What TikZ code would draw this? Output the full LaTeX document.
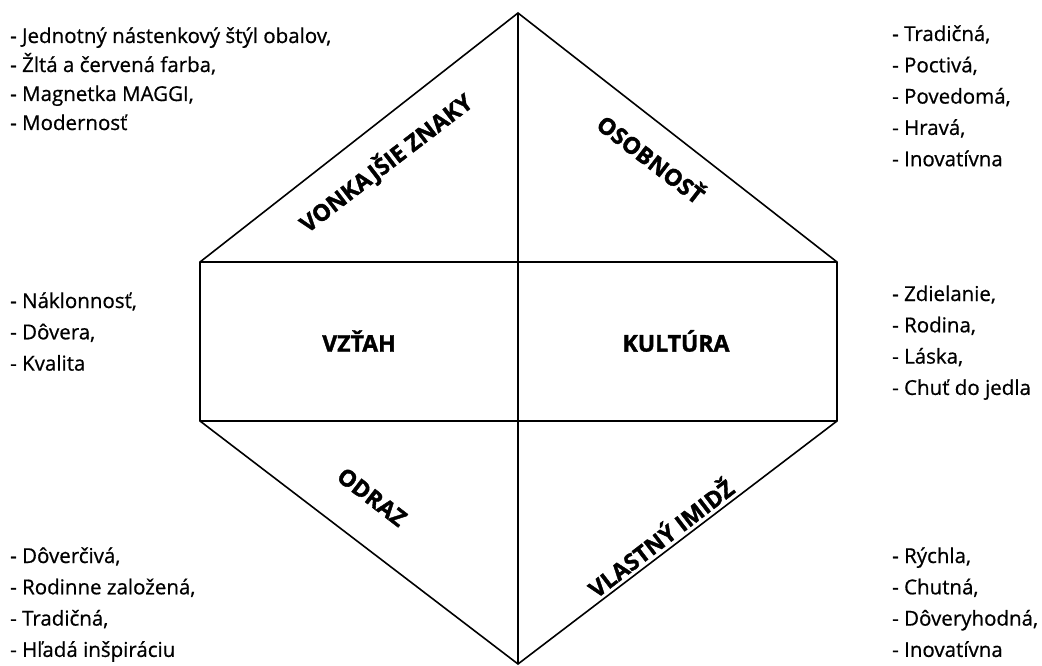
\documentclass[tikz,border=0pt]{standalone}
\usepackage{fontspec}
\setmainfont{Open Sans}
\newfontfamily\listfont{Open Sans}[FakeBold=0.7]
\newfontfamily\labelfont{Open Sans}[FakeBold=1.6]
\begin{document}
\begin{tikzpicture}[x=1pt,y=-1pt,
  edge/.style={line width=1.6pt,line join=miter},
  listtxt/.style={anchor=base west,inner sep=0pt,font=\listfont\fontsize{20.5}{#1}\selectfont},
  listtxt/.default=31.3,
  lbl/.style={inner sep=0pt,font=\labelfont\fontsize{23}{25}\selectfont\bfseries}]
\useasboundingbox (0,0) rectangle (1042,666);
% vertices
\coordinate (T) at (518,13);
\coordinate (UL) at (200,262);
\coordinate (UR) at (837,262);
\coordinate (LL) at (200,421);
\coordinate (LR) at (837,421);
\coordinate (B) at (518,664);
\draw[edge] (T) -- (UR) -- (LR) -- (B) -- (LL) -- (UL) -- cycle;
\draw[edge] (T) -- (B);
\draw[edge] (UL) -- (UR);
\draw[edge] (LL) -- (LR);
% labels
\node[lbl,rotate=37.5] (vz) at (386,163) {VONKAJŠIE ZNAKY};
\node[lbl,rotate=-37.5] (os) at (652,158) {OSOBNOSŤ};
\node[lbl] (vt) at (359,341) {VZŤAH};
\node[lbl] (ku) at (676,341) {KULTÚRA};
\node[lbl,rotate=-37.5] (od) at (372,497) {ODRAZ};
\node[lbl,rotate=37.5] (vi) at (660,537) {VLASTNÝ IMIDŽ};
% lists
\node[listtxt=29] (ltl) at (10,43) {\begin{tabular}[t]{@{}l@{}}- Jednotný nástenkový štýl obalov,\\- Žltá a červená farba,\\- Magnetka MAGGI,\\- Modernosť\end{tabular}};
\node[listtxt] (ltr) at (892,41) {\begin{tabular}[t]{@{}l@{}}- Tradičná,\\- Poctivá,\\- Povedomá,\\- Hravá,\\- Inovatívna\end{tabular}};
\node[listtxt] (lml) at (10,308) {\begin{tabular}[t]{@{}l@{}}- Náklonnosť,\\- Dôvera,\\- Kvalita\end{tabular}};
\node[listtxt] (lmr) at (892,301) {\begin{tabular}[t]{@{}l@{}}- Zdielanie,\\- Rodina,\\- Láska,\\- Chuť do jedla\end{tabular}};
\node[listtxt] (lbl) at (10,563) {\begin{tabular}[t]{@{}l@{}}- Dôverčivá,\\- Rodinne založená,\\- Tradičná,\\- Hľadá inšpiráciu\end{tabular}};
\node[listtxt] (lbr) at (892,563) {\begin{tabular}[t]{@{}l@{}}- Rýchla,\\- Chutná,\\- Dôveryhodná,\\- Inovatívna\end{tabular}};
\end{tikzpicture}
\end{document}
